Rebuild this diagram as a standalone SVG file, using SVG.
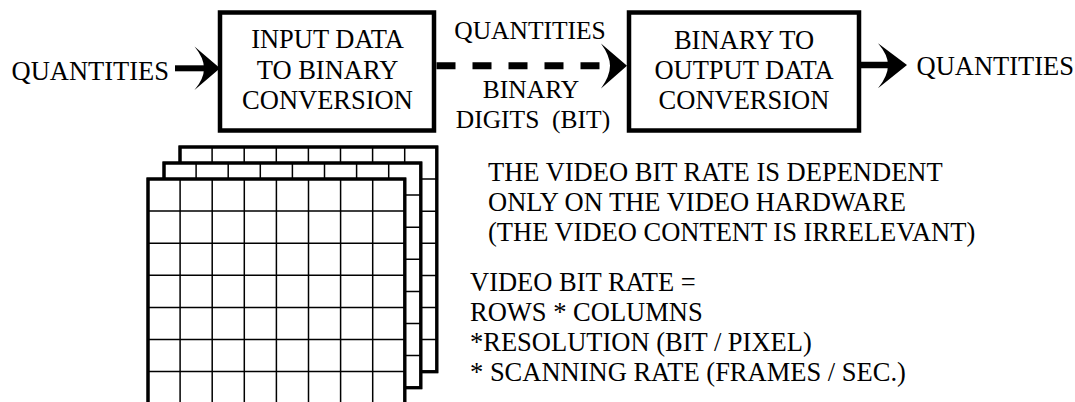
<svg xmlns="http://www.w3.org/2000/svg" xmlns:xlink="http://www.w3.org/1999/xlink" width="1075" height="402" viewBox="0 0 1075 402">
<style>
text{fill:#000;font-family:"Liberation Serif","Times New Roman",serif;}
.t{font-size:26.5px;}
.m{font-size:25.5px;text-anchor:middle;}
.c{text-anchor:middle;}
.box{fill:#fff;stroke:#000;stroke-width:4.5;}
.fr{fill:#fff;stroke:#000;stroke-width:3;}
.gl{fill:none;stroke:#000;stroke-width:1.5;}
.head{fill:#000;stroke:none;}
</style>
<defs>
<g id="frame">
<rect class="fr" x="0" y="0" width="256.8" height="224.7"/>
<path class="gl" d="M32.1,0V224.7M64.2,0V224.7M96.3,0V224.7M128.4,0V224.7M160.5,0V224.7M192.6,0V224.7M224.7,0V224.7M0,32.1H256.8M0,64.2H256.8M0,96.3H256.8M0,128.4H256.8M0,160.5H256.8M0,192.6H256.8"/>
<rect x="0" y="0" width="256.8" height="224.7" fill="none" stroke="#000" stroke-width="3"/>
</g>
</defs>
<g id="input-label"><text class="t" x="11.5" y="79.5">QUANTITIES</text></g>
<g id="box-input">
<rect class="box" x="220" y="12.5" width="214" height="118"/>
<text class="t c" x="327.5" y="47.5">INPUT DATA</text>
<text class="t c" x="327.5" y="79">TO BINARY</text>
<text class="t c" x="327.5" y="109">CONVERSION</text>
</g>
<g id="box-output">
<rect class="box" x="629" y="12.5" width="230" height="118"/>
<text class="t c" x="744" y="48.5">BINARY TO</text>
<text class="t c" x="744" y="79">OUTPUT DATA</text>
<text class="t c" x="744" y="109">CONVERSION</text>
</g>
<g id="output-label"><text class="t" x="916.5" y="74.5">QUANTITIES</text></g>
<g id="mid-labels">
<text class="m" x="530" y="38.5">QUANTITIES</text>
<text class="m" x="531" y="98">BINARY</text>
<text class="m" x="533" y="128" xml:space="preserve">DIGITS  (BIT)</text>
</g>
<g id="connectors">
<line x1="175" y1="68.3" x2="206" y2="68.3" stroke="#000" stroke-width="6"/>
<path class="head" d="M220,68.3 L194.5,46.5 Q204,58 204,68.3 Q204,79 194.5,90 Z"/>
<line x1="436.5" y1="65.8" x2="603" y2="65.8" stroke="#000" stroke-width="7" stroke-dasharray="19 17"/>
<path class="head" d="M627,65.8 L601,43.5 Q610,56 610,65.8 Q610,76 601,88.5 Z"/>
<line x1="861" y1="65" x2="889" y2="65" stroke="#000" stroke-width="6.5"/>
<path class="head" d="M907,65 L878,43.3 Q888,55 888,65 Q888,76 878,88.3 Z"/>
</g>
<g id="frames">
<use xlink:href="#frame" transform="translate(180,147)"/>
<use xlink:href="#frame" transform="translate(164,163)"/>
<use xlink:href="#frame" transform="translate(148,179)"/>
</g>
<g id="notes">
<text class="t" x="488" y="180.5">THE VIDEO BIT RATE IS DEPENDENT</text>
<text class="t" x="488" y="211">ONLY ON THE VIDEO HARDWARE</text>
<text class="t" x="488" y="241">(THE VIDEO CONTENT IS IRRELEVANT)</text>
<text class="t" x="470" y="290.5">VIDEO BIT RATE =</text>
<text class="t" x="470" y="320.5">ROWS * COLUMNS</text>
<text class="t" x="470" y="350.5">*RESOLUTION (BIT / PIXEL)</text>
<text class="t" x="470" y="381">* SCANNING RATE (FRAMES / SEC.)</text>
</g>
</svg>
